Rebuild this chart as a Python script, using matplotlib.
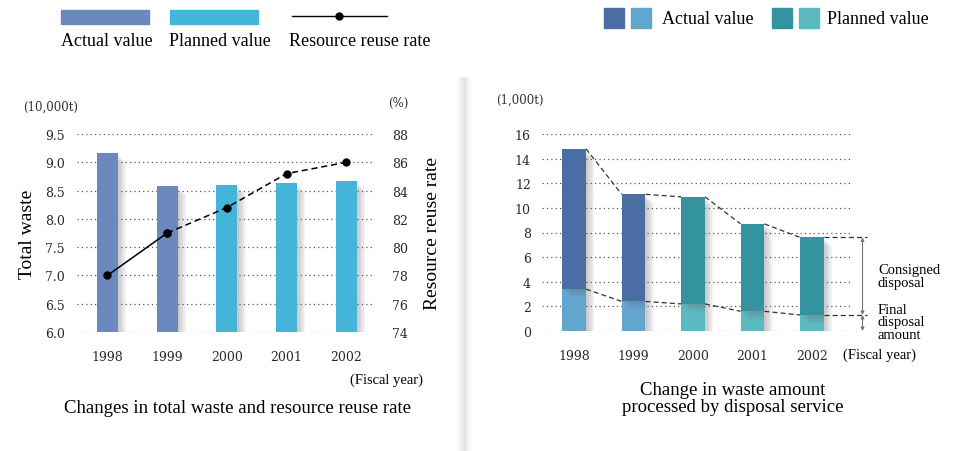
import numpy as np
import matplotlib
matplotlib.use("Agg")
import matplotlib.pyplot as plt
import matplotlib.patheffects as pe
from matplotlib.patches import Rectangle
from matplotlib.lines import Line2D

plt.rcParams['font.family'] = ['Liberation Serif', 'DejaVu Serif']

years = ['1998', '1999', '2000', '2001', '2002']
total_waste = [9.16, 8.58, 8.60, 8.63, 8.67]
reuse_rate = [78.0, 81.0, 82.8, 85.2, 86.0]
n_actual = 2  # first two years are actual values

consigned_total = [14.8, 11.1, 10.9, 8.7, 7.6]
final_disposal = [3.4, 2.4, 2.2, 1.6, 1.3]

c_act = '#6b89bd'
c_plan = '#45b4d9'
c_act_dark = '#4a6ea4'
c_act_light = '#62a6d0'
c_plan_dark = '#33939f'
c_plan_light = '#5bb9c2'

W, H = 956, 452
fig = plt.figure(figsize=(W / 100, H / 100), dpi=100)


def px_axes(x0, y0, x1, y1):
    return fig.add_axes([x0 / W, 1 - y1 / H, (x1 - x0) / W, (y1 - y0) / H])


def ftext(x, y, s, **kw):
    fig.text(x / W, 1 - y / H, s, **kw)


shadow = [pe.SimplePatchShadow(offset=(k, -k), shadow_rgbFace='#707070', alpha=0.07) for k in range(1, 7)]
shadow.append(pe.Normal())
grid_kw = dict(color='#555555', lw=0.9, linestyle=(0, (1, 2.5)))


def style_ticks(ax):
    for lbl in ax.get_xticklabels() + ax.get_yticklabels():
        lbl.set_fontfamily('DejaVu Serif')
        lbl.set_fontsize(9)
        lbl.set_color('#2a2a2a')


# ---------- left chart ----------
ax1 = px_axes(77, 135, 375, 333)
x = np.arange(len(years))
cols = [c_act if i < n_actual else c_plan for i in range(len(years))]
ax1.set_ylim(6.0, 9.5)
ax1.set_xlim(-0.51, 4.48)
for yv in np.arange(6.0, 9.51, 0.5):
    ax1.axhline(yv, zorder=0, **grid_kw)
bars = ax1.bar(x, [v - 6.0 for v in total_waste], bottom=6.0, width=0.35, color=cols, zorder=2)
for b in bars:
    b.set_path_effects(shadow)
ax1.set_yticks(np.arange(6.0, 9.51, 0.5))
ax1.set_yticklabels(['6.0', '6.5', '7.0', '7.5', '8.0', '8.5', '9.0', '9.5'])
ax1.set_xticks(x)
ax1.set_xticklabels(years)
ax1.tick_params(length=0, pad=13)
ax1.tick_params(axis='y', pad=9)
style_ticks(ax1)
for s in ax1.spines.values():
    s.set_visible(False)
ax1.set_ylabel('Total waste', fontsize=14, labelpad=6)

ax1r = ax1.twinx()
ax1r.set_ylim(74, 88)
ax1r.plot(x[:2], reuse_rate[:2], color='black', lw=1.1, marker='o', ms=5, zorder=3)
ax1r.plot(x[1:], reuse_rate[1:], color='black', lw=1.1, ls=(0, (4, 2.5)), marker='o', ms=5, zorder=3)
ax1r.set_yticks(np.arange(74, 89, 2))
ax1r.tick_params(length=0, pad=12)
style_ticks(ax1r)
for s in ax1r.spines.values():
    s.set_visible(False)
ax1r.set_ylabel('Resource reuse rate', fontsize=14, labelpad=12)

ftext(23, 107, '(10,000t)', fontfamily='DejaVu Serif', fontsize=8.5, color='#333333', va='center')
ftext(398, 103, '(%)', fontfamily='DejaVu Serif', fontsize=8.5, color='#333333', va='center', ha='center')
ftext(423, 380, '(Fiscal year)', fontsize=10.5, va='center', ha='right')
ftext(238, 409, 'Changes in total waste and resource reuse rate', fontsize=13.5, va='center', ha='center')

# legend left
fig.patches.append(Rectangle((61 / W, 1 - 25 / H), 88 / W, 14 / H, color=c_act, transform=fig.transFigure))
fig.patches.append(Rectangle((170 / W, 1 - 25 / H), 88 / W, 14 / H, color=c_plan, transform=fig.transFigure))
fig.lines.append(Line2D([292 / W, 387 / W], [1 - 17 / H] * 2, color='black', lw=1, transform=fig.transFigure))
fig.lines.append(Line2D([339 / W], [1 - 17 / H], color='black', marker='o', ms=5, transform=fig.transFigure))
ftext(61, 42, 'Actual value', fontsize=13, va='center')
ftext(169, 42, 'Planned value', fontsize=13, va='center')
ftext(289, 42, 'Resource reuse rate', fontsize=13, va='center')

# ---------- divider ----------
dax = px_axes(455, 78, 475, 452)
grad = np.concatenate([np.linspace(0, 1, 10), np.linspace(1, 0, 10) ** 2])
dax.imshow(grad[None, :], aspect='auto', cmap='Greys', vmin=0, vmax=5, extent=(0, 1, 0, 1))
dax.axis('off')

# ---------- right chart ----------
ax2 = px_axes(542, 135, 853, 332)
ax2.set_ylim(0, 16)
ax2.set_xlim(-0.54, 4.69)
for yv in range(0, 17, 2):
    ax2.axhline(yv, zorder=0, **grid_kw)
wd = 0.40
dark = [c_act_dark if i < n_actual else c_plan_dark for i in range(len(years))]
light = [c_act_light if i < n_actual else c_plan_light for i in range(len(years))]
upper = [t - f for t, f in zip(consigned_total, final_disposal)]
b_low = ax2.bar(x, final_disposal, width=wd, color=light, zorder=2)
b_up = ax2.bar(x, upper, bottom=final_disposal, width=wd, color=dark, zorder=2)
for b in list(b_low) + list(b_up):
    b.set_path_effects(shadow)
dash = dict(color='#333333', lw=0.9, ls=(0, (4, 2.5)), zorder=3)
for i in range(len(years) - 1):
    ax2.plot([i + wd / 2, i + 1 - wd / 2], [consigned_total[i], consigned_total[i + 1]], **dash)
    ax2.plot([i + wd / 2, i + 1 - wd / 2], [final_disposal[i], final_disposal[i + 1]], **dash)
ax2.plot([4 + wd / 2, 4.93], [consigned_total[-1]] * 2, clip_on=False, **dash)
ax2.plot([4 + wd / 2, 4.93], [final_disposal[-1]] * 2, clip_on=False, **dash)
ax2.annotate('', xy=(4.85, final_disposal[-1]), xytext=(4.85, consigned_total[-1]),
             arrowprops=dict(arrowstyle='<|-|>', color='#777777', lw=0.8, mutation_scale=5,
                             shrinkA=0, shrinkB=0), annotation_clip=False)
ax2.annotate('', xy=(4.85, 0), xytext=(4.85, final_disposal[-1]),
             arrowprops=dict(arrowstyle='<|-|>', color='#777777', lw=0.8, mutation_scale=5,
                             shrinkA=0, shrinkB=0), annotation_clip=False)
ax2.set_yticks(range(0, 17, 2))
ax2.set_xticks(x)
ax2.set_xticklabels(years)
ax2.tick_params(length=0, pad=13)
ax2.tick_params(axis='y', pad=8)
style_ticks(ax2)
for s in ax2.spines.values():
    s.set_visible(False)

ftext(878, 277, 'Consigned\ndisposal', fontsize=10.5, va='center', linespacing=0.95)
ftext(878, 323, 'Final\ndisposal\namount', fontsize=10.5, va='center', linespacing=0.95)
ftext(843, 355, '(Fiscal year)', fontsize=10.5, va='center')
ftext(496, 100, '(1,000t)', fontfamily='DejaVu Serif', fontsize=8.5, color='#333333', va='center')
ftext(733, 399, 'Change in waste amount\nprocessed by disposal service', fontsize=13.5,
      va='center', ha='center', linespacing=0.95)

# legend right
for xx, c in [(604, c_act_dark), (631, c_act_light), (772, c_plan_dark), (799, c_plan_light)]:
    fig.patches.append(Rectangle((xx / W, 1 - 29 / H), 20 / W, 20 / H, color=c, transform=fig.transFigure))
ftext(662, 19, 'Actual value', fontsize=13, va='center')
ftext(827, 19, 'Planned value', fontsize=13, va='center')

fig.savefig('out.png', dpi=100)
